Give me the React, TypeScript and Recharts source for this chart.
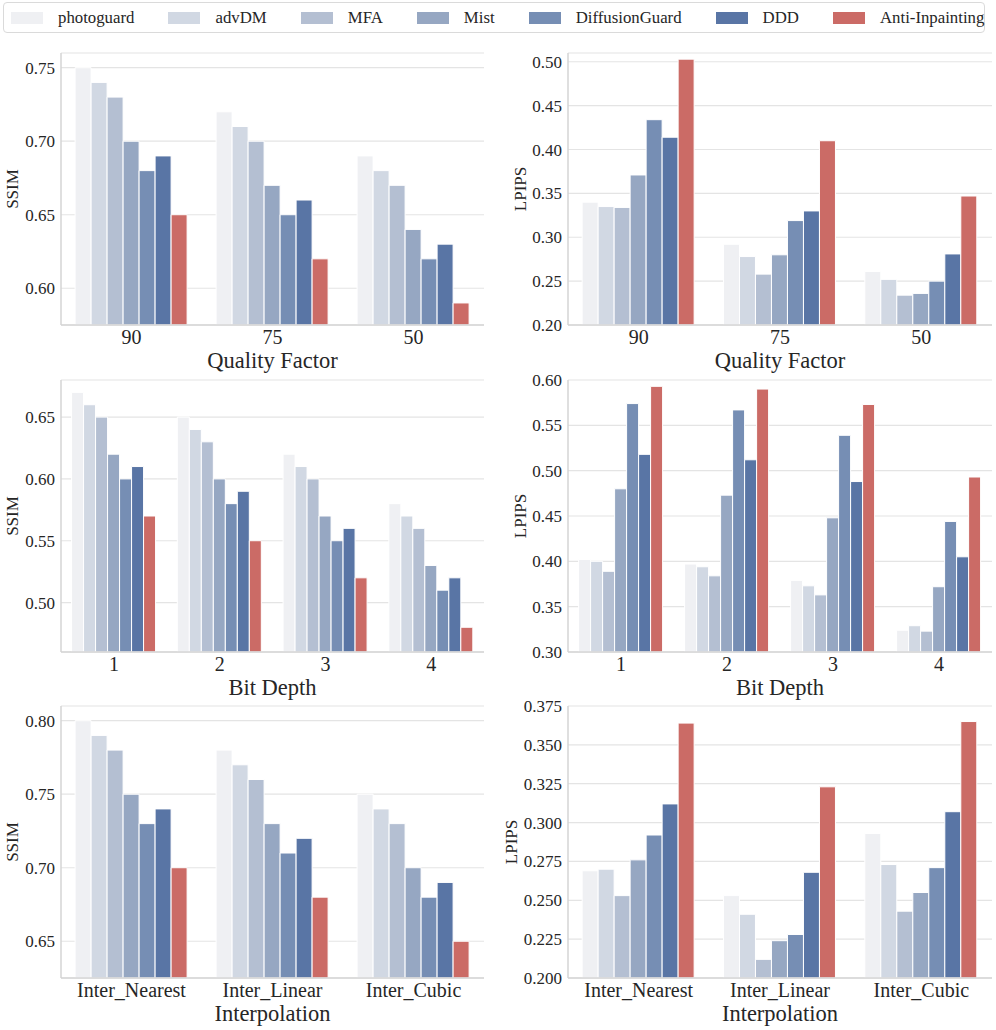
import React from 'react';
import { BarChart, Bar, XAxis, YAxis, CartesianGrid } from 'recharts';

const methods = ['photoguard', 'advDM', 'MFA', 'Mist', 'DiffusionGuard', 'DDD', 'Anti-Inpainting'];
const colors = ['#eff0f3', '#d1d8e3', '#b4bfd2', '#96a7c2', '#768eb4', '#5975a5', '#cb6b66'];

const qualityFactors = ['90', '75', '50'];
const bitDepths = ['1', '2', '3', '4'];
const interpolations = ['Inter_Nearest', 'Inter_Linear', 'Inter_Cubic'];

// one row per category, values in the order of `methods`
const ssimQuality = [
  [0.75, 0.74, 0.73, 0.70, 0.68, 0.69, 0.65],
  [0.72, 0.71, 0.70, 0.67, 0.65, 0.66, 0.62],
  [0.69, 0.68, 0.67, 0.64, 0.62, 0.63, 0.59],
];
const lpipsQuality = [
  [0.340, 0.335, 0.334, 0.371, 0.434, 0.414, 0.503],
  [0.292, 0.278, 0.258, 0.280, 0.319, 0.330, 0.410],
  [0.261, 0.252, 0.234, 0.236, 0.250, 0.281, 0.347],
];
const ssimBit = [
  [0.67, 0.66, 0.65, 0.62, 0.60, 0.61, 0.57],
  [0.65, 0.64, 0.63, 0.60, 0.58, 0.59, 0.55],
  [0.62, 0.61, 0.60, 0.57, 0.55, 0.56, 0.52],
  [0.58, 0.57, 0.56, 0.53, 0.51, 0.52, 0.48],
];
const lpipsBit = [
  [0.402, 0.400, 0.389, 0.480, 0.574, 0.518, 0.593],
  [0.397, 0.394, 0.384, 0.473, 0.567, 0.512, 0.590],
  [0.379, 0.373, 0.363, 0.448, 0.539, 0.488, 0.573],
  [0.324, 0.329, 0.323, 0.372, 0.444, 0.405, 0.493],
];
const ssimInterp = [
  [0.80, 0.79, 0.78, 0.75, 0.73, 0.74, 0.70],
  [0.78, 0.77, 0.76, 0.73, 0.71, 0.72, 0.68],
  [0.75, 0.74, 0.73, 0.70, 0.68, 0.69, 0.65],
];
const lpipsInterp = [
  [0.269, 0.270, 0.253, 0.276, 0.292, 0.312, 0.364],
  [0.253, 0.241, 0.212, 0.224, 0.228, 0.268, 0.323],
  [0.293, 0.273, 0.243, 0.255, 0.271, 0.307, 0.365],
];

const ssimQualityTicks = [0.60, 0.65, 0.70, 0.75];
const lpipsQualityTicks = [0.20, 0.25, 0.30, 0.35, 0.40, 0.45, 0.50];
const ssimBitTicks = [0.50, 0.55, 0.60, 0.65];
const lpipsBitTicks = [0.30, 0.35, 0.40, 0.45, 0.50, 0.55, 0.60];
const ssimInterpTicks = [0.65, 0.70, 0.75, 0.80];
const lpipsInterpTicks = [0.200, 0.225, 0.250, 0.275, 0.300, 0.325, 0.350, 0.375];

const TEXT = '#262626';
const FONT = '"Liberation Serif", "Times New Roman", serif';

interface PanelProps {
  left: number;
  top: number;
  yWidth: number;
  right: number;
  categories: string[];
  values: number[][];
  domain: [number, number];
  ticks: number[];
  digits: number;
  yLabel: string;
  xLabel: string;
  yLabelX: number;
}

function Panel({ left, top, yWidth, right, categories, values, domain, ticks, digits, yLabel, xLabel, yLabelX }: PanelProps) {
  const data = categories.map((c, i) => {
    const row: Record<string, any> = { name: c };
    methods.forEach((m, j) => { row[m] = values[i][j]; });
    return row;
  });

  return (
    <div style={{ position: 'absolute', left, top }}>
      <BarChart
        width={496}
        height={335}
        data={data}
        margin={{ top: 13, right, bottom: 0, left: 0 }}
        barCategoryGap="10%"
        barGap={0}
        style={{ fontFamily: FONT }}
      >
        <CartesianGrid vertical={false} stroke="#e4e4e4" strokeWidth={1.2} />
        <XAxis
          dataKey="name"
          height={50}
          interval={0}
          tickLine={false}
          tickSize={0}
          tickMargin={5}
          axisLine={{ stroke: '#d4d4d4', strokeWidth: 1.5 }}
          tick={{ fontSize: 20, fill: TEXT, fontFamily: FONT }}
          label={{ value: xLabel, position: 'insideBottom', offset: 7, fontSize: 22.5, fill: TEXT, fontFamily: FONT }}
        />
        <YAxis
          type="number"
          width={yWidth}
          domain={domain}
          ticks={ticks}
          allowDataOverflow
          tickLine={false}
          tickSize={0}
          tickMargin={6}
          axisLine={{ stroke: '#d4d4d4', strokeWidth: 1.5 }}
          tick={{ fontSize: 17, fill: TEXT, fontFamily: FONT }}
          tickFormatter={(v: number) => v.toFixed(digits)}
          label={{
            value: yLabel,
            angle: -90,
            position: 'insideLeft',
            offset: yLabelX,
            fontSize: 17,
            fill: TEXT,
            fontFamily: FONT,
            style: { textAnchor: 'middle' },
          }}
        />
        {methods.map((m, i) => (
          <Bar key={m} dataKey={m} fill={colors[i]} stroke="#ffffff" strokeWidth={1} isAnimationActive={false} />
        ))}
      </BarChart>
    </div>
  );
}

function Legend() {
  return (
    <div
      style={{
        position: 'absolute',
        left: 3,
        top: 2,
        width: 982,
        height: 31,
        boxSizing: 'border-box',
        border: '1px solid #dadada',
        borderRadius: 4,
        display: 'flex',
        alignItems: 'center',
        paddingLeft: 7,
        color: TEXT,
        fontSize: 16.8,
        whiteSpace: 'nowrap',
      }}
    >
      {methods.map((m, i) => (
        <div key={m} style={{ display: 'flex', alignItems: 'center', marginRight: 34, flexShrink: 0 }}>
          <span style={{ display: 'inline-block', width: 32, height: 12, background: colors[i], marginRight: 15 }} />
          <span>{m}</span>
        </div>
      ))}
    </div>
  );
}

export default function App() {
  return (
    <div
      style={{
        position: 'absolute',
        left: 0,
        top: 0,
        width: 996,
        height: 1030,
        overflow: 'hidden',
        background: '#fff',
        fontFamily: FONT,
      }}
    >
      <Legend />
      <Panel left={0} top={40} yWidth={61} right={12} categories={qualityFactors} values={ssimQuality}
        domain={[0.575, 0.76]} ticks={ssimQualityTicks} digits={2} yLabel="SSIM" xLabel="Quality Factor" yLabelX={12} />
      <Panel left={500} top={40} yWidth={68} right={4} categories={qualityFactors} values={lpipsQuality}
        domain={[0.2, 0.51]} ticks={lpipsQualityTicks} digits={2} yLabel="LPIPS" xLabel="Quality Factor" yLabelX={20} />
      <Panel left={0} top={367} yWidth={61} right={12} categories={bitDepths} values={ssimBit}
        domain={[0.46, 0.68]} ticks={ssimBitTicks} digits={2} yLabel="SSIM" xLabel="Bit Depth" yLabelX={12} />
      <Panel left={500} top={367} yWidth={68} right={4} categories={bitDepths} values={lpipsBit}
        domain={[0.3, 0.6]} ticks={lpipsBitTicks} digits={2} yLabel="LPIPS" xLabel="Bit Depth" yLabelX={20} />
      <Panel left={0} top={693} yWidth={61} right={12} categories={interpolations} values={ssimInterp}
        domain={[0.625, 0.81]} ticks={ssimInterpTicks} digits={2} yLabel="SSIM" xLabel="Interpolation" yLabelX={12} />
      <Panel left={500} top={693} yWidth={68} right={4} categories={interpolations} values={lpipsInterp}
        domain={[0.2, 0.375]} ticks={lpipsInterpTicks} digits={3} yLabel="LPIPS" xLabel="Interpolation" yLabelX={11} />
    </div>
  );
}
